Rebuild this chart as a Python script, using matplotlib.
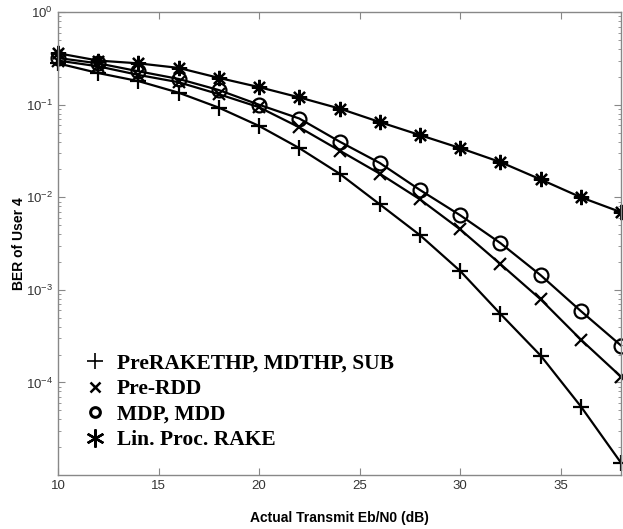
import numpy as np
import matplotlib
matplotlib.use('Agg')
import matplotlib.pyplot as plt
from matplotlib.lines import Line2D

# Eb/N0 em dB
ebn0 = [10, 12, 14, 16, 18, 20, 22, 24, 26, 28, 30, 32, 34, 36, 38]

ber_prerake_thp = [0.28, 0.22, 0.18, 0.135, 0.093, 0.059, 0.034, 0.018, 0.0084,
                   0.0039, 0.0016, 5.5e-4, 1.95e-4, 5.5e-5, 1.35e-5]
ber_pre_rdd = [0.30, 0.26, 0.21, 0.175, 0.13, 0.094, 0.057, 0.032, 0.018,
               0.0095, 0.0045, 0.0019, 7.9e-4, 2.9e-4, 1.15e-4]
ber_mdp = [0.32, 0.28, 0.23, 0.19, 0.144, 0.10, 0.071, 0.040, 0.0235,
           0.012, 0.0064, 0.0032, 1.44e-3, 5.9e-4, 2.5e-4]
ber_lin_rake = [0.36, 0.30, 0.28, 0.25, 0.195, 0.155, 0.12, 0.091, 0.065,
                0.047, 0.034, 0.024, 0.0156, 0.010, 0.0069]

asterisco = (8, 2, 0)
curvas = [
    (ber_prerake_thp, '+', 11, 'PreRAKETHP, MDTHP, SUB'),
    (ber_pre_rdd, 'x', 9, 'Pre-RDD'),
    (ber_mdp, 'o', 10, 'MDP, MDD'),
    (ber_lin_rake, asterisco, 11, 'Lin. Proc. RAKE'),
]

fig = plt.figure(figsize=(6.23, 5.29), dpi=100)
ax = fig.add_axes([0.093, 0.102, 0.904, 0.875])

for ber, marcador, tam, nome in curvas:
    ax.semilogy(ebn0, ber, color='black', linewidth=1.6, marker=marcador,
                markersize=tam, markerfacecolor='none', markeredgewidth=1.6,
                clip_on=False)

ax.set_xlim(10, 38)
ax.set_xticks([10, 15, 20, 25, 30, 35])
ax.set_yticks([1e-4, 1e-3, 1e-2, 1e-1, 1])
ax.set_ylim(1e-5, 1)

cinza = '#888888'
for lado in ax.spines.values():
    lado.set_color(cinza)
    lado.set_linewidth(1.0)
ax.tick_params(which='both', direction='in', top=True, right=True, color=cinza,
               labelcolor='#333333', labelsize=9.5)
ax.tick_params(which='major', length=5)
ax.tick_params(which='minor', length=2.5)
for r in ax.get_yticklabels() + ax.get_xticklabels():
    r.set_fontfamily('Liberation Sans')

ax.set_xlabel('Actual Transmit Eb/N0 (dB)', fontfamily='Liberation Sans',
              fontsize=10, fontweight='bold', labelpad=14)
ax.set_ylabel('BER of User 4', fontfamily='Liberation Sans', fontsize=10,
              fontweight='bold', labelpad=0)

alcas = [Line2D([], [], color='black', linestyle='none', marker='+', markersize=11, markeredgewidth=1.2),
         Line2D([], [], color='black', linestyle='none', marker='x', markersize=7, markeredgewidth=1.8),
         Line2D([], [], color='black', linestyle='none', marker='o', markersize=7, markerfacecolor='none', markeredgewidth=2.2),
         Line2D([], [], color='black', linestyle='none', marker=(6, 2, 0), markersize=13, markeredgewidth=1.7)]
ax.legend(alcas, [c[3] for c in curvas], loc='upper left',
          bbox_to_anchor=(0.046, 0.263), frameon=False, borderpad=0,
          borderaxespad=0, handlelength=1.0, handletextpad=0.53,
          labelspacing=0.26,
          prop={'family': 'Liberation Serif', 'weight': 'bold', 'size': 15.5})

fig.savefig('out.png', dpi=100)
